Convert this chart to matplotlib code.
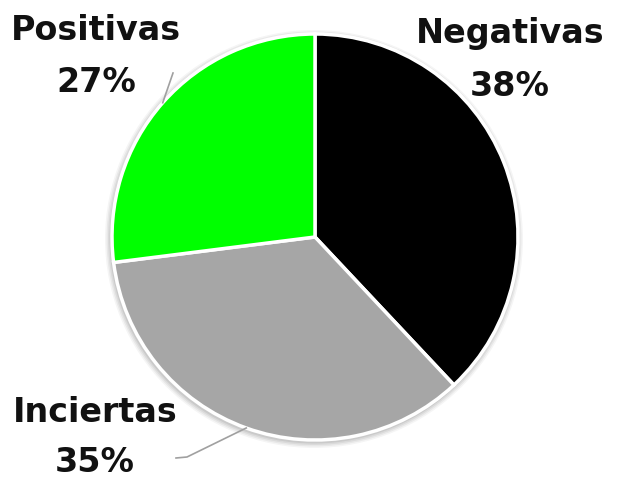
import numpy as np
import matplotlib
matplotlib.use("Agg")
import matplotlib.pyplot as plt
from matplotlib.patches import Circle

# data
labels = ["Negativas", "Inciertas", "Positivas"]
values = [38, 35, 27]
colors = ["#000000", "#a6a6a6", "#00ff00"]

W, H = 624, 487
fig = plt.figure(figsize=(W / 100, H / 100), dpi=100)
ax = fig.add_axes([0, 0, 1, 1])

cx, cy, r = 315, H - 237, 203

# soft shadow behind the pie
for i, a in enumerate([0.04, 0.05, 0.06, 0.07]):
    ax.add_patch(Circle((cx - 1, cy - 2), r + 6 - i * 1.5, color="black", alpha=a, lw=0, zorder=0))

wedges, _ = ax.pie(values, colors=colors, startangle=90, counterclock=False,
                   center=(cx, cy), radius=r, frame=True,
                   wedgeprops=dict(edgecolor="white", linewidth=2.5))
ax.set_xlim(0, W)
ax.set_ylim(0, H)
ax.set_axis_off()

font = dict(family="DejaVu Sans", weight="bold", fontsize=24, color="#111111",
            ha="center", va="center")

# label positions (pixels from top-left)
label_pos = {"Negativas": (510, 34, 87), "Positivas": (96, 30, 82), "Inciertas": (95, 413, 462)}
for lab, val in zip(labels, values):
    x, y1, y2 = label_pos[lab]
    ax.text(x, H - y1, lab, **font)
    ax.text(x, H - y2, f"{val}%", **font)

# leader lines from wedge mid-angle on the rim
def rim(w):
    ang = np.deg2rad((w.theta1 + w.theta2) / 2)
    return cx + r * np.cos(ang), cy + r * np.sin(ang)

lc = "#a0a0a0"
px, py = rim(wedges[2])
ax.plot([px, 173], [py, H - 73], color=lc, lw=1.2)
ix, iy = rim(wedges[1])
ax.plot([ix, 187, 176], [iy, H - 457, H - 458], color=lc, lw=1.2)

fig.savefig("out.png", dpi=100)
